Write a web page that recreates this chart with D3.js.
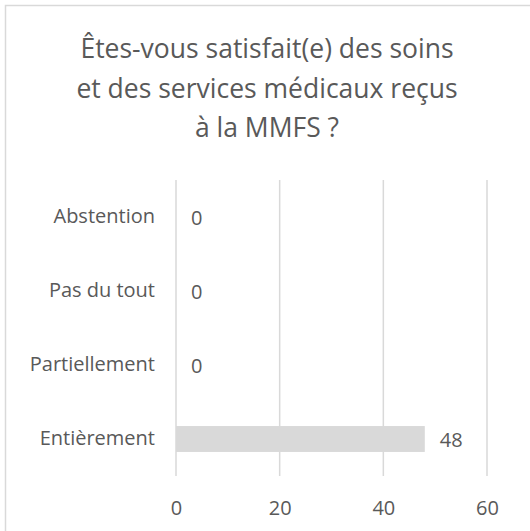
<!DOCTYPE html>
<html>
<head>
<meta charset="utf-8">
<script src="https://cdn.jsdelivr.net/npm/d3@7"></script>
<style>
  body { margin: 0; background: #fff; }
  svg { display: block; }
</style>
</head>
<body>
<script>
const w = 530
const h = 531
const textColor = "#595959"
const gridColor = "#d9d9d9"
const font = "'Open Sans', 'Liberation Sans', sans-serif"

// data
const titleLines = ["Êtes-vous satisfait(e) des soins", "et des services médicaux reçus", "à la MMFS ?"]
const categories = ["Abstention", "Pas du tout", "Partiellement", "Entièrement"]
const values = [0, 0, 0, 48]
const xTicks = [0, 20, 40, 60]

const svg = d3.select("body")
	.append("svg")
	.attr("width", w)
	.attr("height", h)
	.style("font-family", font)

// chart frame (right/bottom edges fall outside the picture)
svg.append("rect")
	.attr("x", 5.5)
	.attr("y", 5.5)
	.attr("width", w + 20)
	.attr("height", h + 20)
	.attr("fill", "none")
	.attr("stroke", gridColor)
	.attr("stroke-width", 1.5)

// Title
svg.append("g")
	.selectAll("text")
	.data(titleLines)
	.enter()
	.append("text")
	.attr("x", 267)
	.attr("y", (d, i) => 58 + i * 39.5)
	.attr("text-anchor", "middle")
	.attr("font-size", 26.5)
	.attr("fill", textColor)
	.text(d => d)

const plotTop = 180
const plotBottom = 476

let xScale = d3.scaleLinear()
	.domain([0, 60])
	.range([176, 487])

let yScale = d3.scaleBand()
	.domain(categories)
	.range([plotTop, plotBottom])
	.paddingInner(0.65)
	.paddingOuter(0.325)

// gridlines
svg.append("g")
	.selectAll("line")
	.data(xTicks)
	.enter()
	.append("line")
	.attr("x1", d => xScale(d))
	.attr("x2", d => xScale(d))
	.attr("y1", plotTop)
	.attr("y2", plotBottom)
	.attr("stroke", gridColor)
	.attr("stroke-width", 1.5)

// bars
svg.append("g")
	.selectAll("rect")
	.data(values)
	.enter()
	.append("rect")
	.attr("x", xScale(0))
	.attr("y", (d, i) => yScale(categories[i]))
	.attr("width", d => xScale(d) - xScale(0))
	.attr("height", yScale.bandwidth())
	.attr("fill", "#d9d9d9")

// value labels
svg.append("g")
	.selectAll("text")
	.data(values)
	.enter()
	.append("text")
	.attr("x", d => xScale(d) + 15)
	.attr("y", (d, i) => yScale(categories[i]) + yScale.bandwidth() / 2)
	.attr("dy", "0.38em")
	.attr("font-size", 20)
	.attr("fill", textColor)
	.text(d => d)

// category axis
let yAxis = d3.axisLeft(yScale).tickSize(0).tickPadding(0)
let yAxisG = svg.append("g")
	.attr("transform", "translate(155, 0)")
	.call(yAxis)
yAxisG.select(".domain").remove()
yAxisG.selectAll("text")
	.attr("font-size", 20)
	.attr("font-family", font)
	.attr("fill", textColor)

// value axis
let xAxis = d3.axisBottom(xScale).tickValues(xTicks).tickSize(0).tickPadding(0)
let xAxisG = svg.append("g")
	.attr("transform", "translate(0, " + 501 + ")")
	.call(xAxis)
xAxisG.select(".domain").remove()
xAxisG.selectAll("text")
	.attr("font-size", 20)
	.attr("font-family", font)
	.attr("fill", textColor)
</script>
</body>
</html>
